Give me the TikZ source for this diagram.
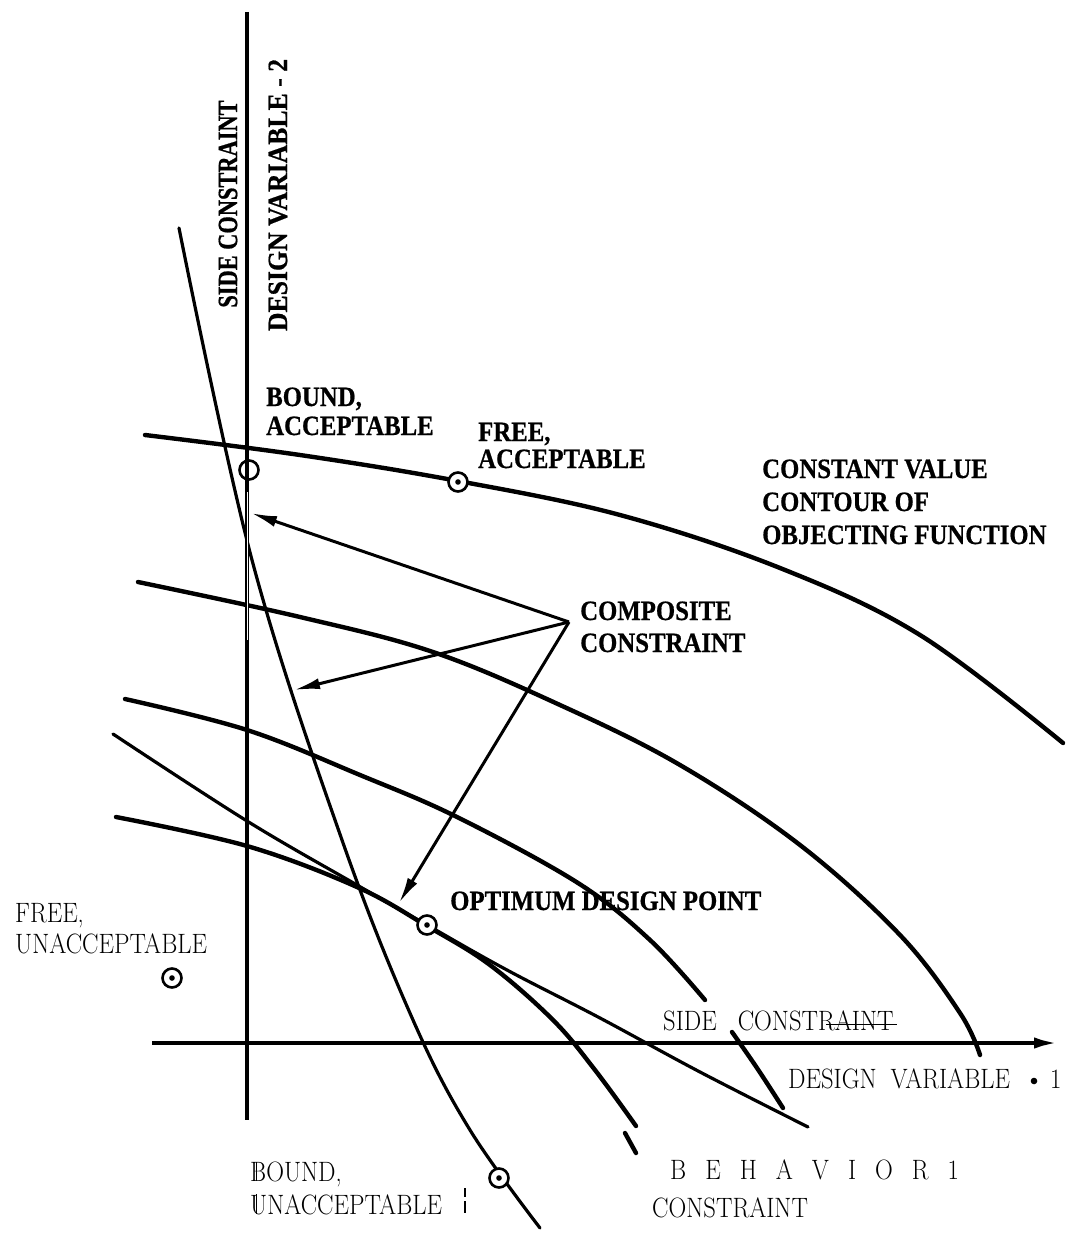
\documentclass[tikz,border=0pt]{standalone}
\usepackage{fontspec}
\usetikzlibrary{arrows.meta}
% heavy condensed serif for the main labels, light condensed serif for the others
\newfontfamily\labelbf[FakeStretch=0.885, BoldFeatures={FakeBold=0.6}]{Liberation Serif}
\newfontfamily\labelbfside[FakeStretch=0.80, BoldFeatures={FakeBold=0.6}]{Liberation Serif}
\newfontfamily\labelbfaxis[FakeStretch=0.92, BoldFeatures={FakeBold=0.6}]{Liberation Serif}
\newfontfamily\labelrm[FakeStretch=0.88]{Latin Modern Roman}

\tikzset{
  contour/.style={line width=4.4pt, line cap=round, line join=round},
  bcurve/.style={line width=3.2pt, line cap=round, line join=round},
  axisline/.style={line width=4.8pt},
  pointer/.style={line width=3pt, -{Latex[length=26pt,width=11pt]}},
  ring/.style={circle, draw, line width=2.6pt, minimum size=19pt, inner sep=0pt},
  dpt/.style={ring, fill=white,
    path picture={\fill[black] (path picture bounding box.center) circle (2.8pt);}},
  boldlbl/.style={font=\labelbf\bfseries\fontsize{28}{30}\selectfont,
    inner sep=0pt, anchor=base west},
  thinlbl/.style={font=\labelrm\fontsize{28}{30}\selectfont,
    inner sep=0pt, anchor=base west},
}

\begin{document}
\begin{tikzpicture}[x=1pt,y=-1pt]
\useasboundingbox (0,0) rectangle (1068,1236);
\fill[white] (0,0) rectangle (1068,1236);

% constant value contours of the objective function
\draw[contour] plot[smooth, tension=0.6] coordinates
  {(145,435) (300,455) (458,481) (620,515) (780,568) (920,635) (1063,743)};
\draw[contour] plot[smooth, tension=0.6] coordinates
  {(138,582) (300,617) (433,652) (560,705) (680,765) (800,845) (900,935) (960,1013) (980,1055)};
\draw[contour] plot[smooth, tension=0.6] coordinates
  {(125,699) (247,730) (360,775) (457,817) (578,883) (650,940) (705,1000)};
\draw[contour] plot[smooth, tension=0.6] coordinates
  {(732,1032) (757,1068) (783,1108)};
\draw[contour] plot[smooth, tension=0.6] coordinates
  {(116,817) (247,846) (357,887) (427,926) (490,965) (553,1020) (595,1070) (636,1126)};
\draw[contour] (625,1133) -- (636,1153);

% behavior constraints
\draw[bcurve] plot[smooth, tension=0.6] coordinates
  {(113,734) (247,821) (357,885) (427,925) (507,970) (600,1018) (700,1072) (808,1127)};
\draw[bcurve] plot[smooth, tension=0.6] coordinates
  {(179,228) (252,560) (342,840) (413,1020) (470,1130) (540,1228)};

% design variable axes
\draw[axisline] (247,12) -- (247,1120);
\draw[white, line width=0.9pt] (247,492) -- (247,640);
\draw[axisline, -{Latex[length=28pt,width=11pt]}] (152,1043) -- (1062,1043);

% composite constraint pointers
\coordinate (cc) at (569,622);
\coordinate (tipA) at (251,513);
\coordinate (tipB) at (294,690);
\coordinate (tipC) at (399,903);
\draw[pointer] (cc) -- (tipA);
\draw[pointer] (cc) -- (tipB);
\draw[pointer] (cc) -- (tipC);

% design points
\node[ring] (pBA) at (249,470) {};
\node[dpt] (pFA) at (458,482) {};
\node[dpt] (pOpt) at (427,925) {};
\node[dpt] (pFU) at (172,978) {};
\node[dpt] (pBU) at (499,1178) {};

% bold labels
\node[boldlbl] (ba1) at (266,406) {BOUND,};
\node[boldlbl] (ba2) at (266,435) {ACCEPTABLE};
\node[boldlbl] (fa1) at (478,441) {FREE,};
\node[boldlbl] (fa2) at (478,468) {ACCEPTABLE};
\node[boldlbl] (cv1) at (762,478) {CONSTANT VALUE};
\node[boldlbl] (cv2) at (762,511) {CONTOUR OF};
\node[boldlbl] (cv3) at (762,544) {OBJECTING FUNCTION};
\node[boldlbl] (cp1) at (580,620) {COMPOSITE};
\node[boldlbl] (cp2) at (580,652) {CONSTRAINT};
\node[boldlbl] (opt) at (450,910) {OPTIMUM DESIGN POINT};
\node[font=\labelbfside\bfseries\fontsize{28}{30}\selectfont, inner sep=0pt, rotate=90]
  (scv) at (228,204) {SIDE CONSTRAINT};
\node[font=\labelbfaxis\bfseries\fontsize{28}{30}\selectfont, inner sep=0pt, rotate=90]
  (dv2) at (278,195) {DESIGN VARIABLE - 2};

% light labels
\node[thinlbl] (fu1) at (15,922) {FREE,};
\node[thinlbl] (fu2) at (15,953) {UNACCEPTABLE};
\node[thinlbl] (sch) at (663,1030) {SIDE\hspace{21pt}CONSTRAINT};
\draw[line width=1pt] (826,1024) -- (897,1024);
\node[thinlbl] (dv1) at (788,1088) {DESIGN\hspace{14pt}VARIABLE};
\fill (1034,1081) circle (3.3pt);
\node[thinlbl] (dvn) at (1050,1088) {1};
\node[thinlbl] (bu1) at (250,1181) {BOUND,};
\node[thinlbl] (bu2) at (250,1214) {UNACCEPTABLE};
\draw[line width=1pt] (256,1162) -- (256,1181) (256,1194) -- (256,1214);
\draw[line width=1.5pt] (465,1188) -- (465,1197) (465,1201) -- (465,1213);
\node[thinlbl] (beh) at (670,1179)
  {B\hspace{19pt}E\hspace{19pt}H\hspace{19pt}A\hspace{19pt}V\hspace{19pt}I\hspace{19pt}O\hspace{19pt}R\hspace{19pt}1};
\node[thinlbl] (bc) at (652,1217) {CONSTRAINT};
\end{tikzpicture}
\end{document}
